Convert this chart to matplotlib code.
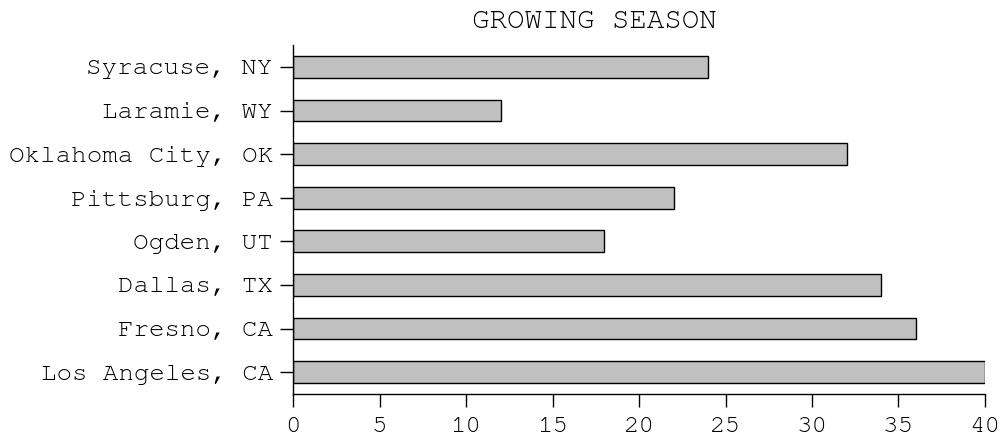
import matplotlib
matplotlib.use("Agg")
import matplotlib.pyplot as plt
from matplotlib import font_manager

# pick a monospace family, Courier-like first if present
installed = set(f.name for f in font_manager.fontManager.ttflist)
mono = "Liberation Mono"
for name in ["Courier New", "Nimbus Mono PS", "FreeMono", "Courier", "Liberation Mono"]:
    if name in installed:
        mono = name
        break
plt.rcParams['font.family'] = [mono, 'DejaVu Sans Mono']

# data, bottom to top
cities = ["Los Angeles, CA", "Fresno, CA", "Dallas, TX", "Ogden, UT",
          "Pittsburg, PA", "Oklahoma City, OK", "Laramie, WY", "Syracuse, NY"]
season = [40, 36, 34, 18, 22, 32, 12, 24]
x_ticks = [0, 5, 10, 15, 20, 25, 30, 35, 40]

fig = plt.figure(figsize=(10, 4.38), dpi=100)
ax = fig.add_axes([0.293, 0.1005, 0.692, 0.7965])

ax.barh(range(len(cities)), season, height=0.5, color="#c0c0c0",
        edgecolor="black", linewidth=1)

ax.set_ylim(-0.5, len(cities) - 0.5)
ax.set_xlim(0, 40)
ax.set_yticks(range(len(cities)))
ax.set_yticklabels(cities)
ax.set_xticks(x_ticks)

for s in ["top", "right"]:
    ax.spines[s].set_visible(False)
ax.spines["left"].set_linewidth(1)
ax.spines["bottom"].set_linewidth(1)

ax.tick_params(axis="both", direction="out", length=9.5, width=1, labelsize=18.6)
ax.tick_params(axis="y", pad=5)
ax.tick_params(axis="x", pad=7)

ax.set_title("GROWING SEASON", fontsize=21, x=0.436, y=1.0, pad=12)

fig.savefig("out.png", dpi=100)
